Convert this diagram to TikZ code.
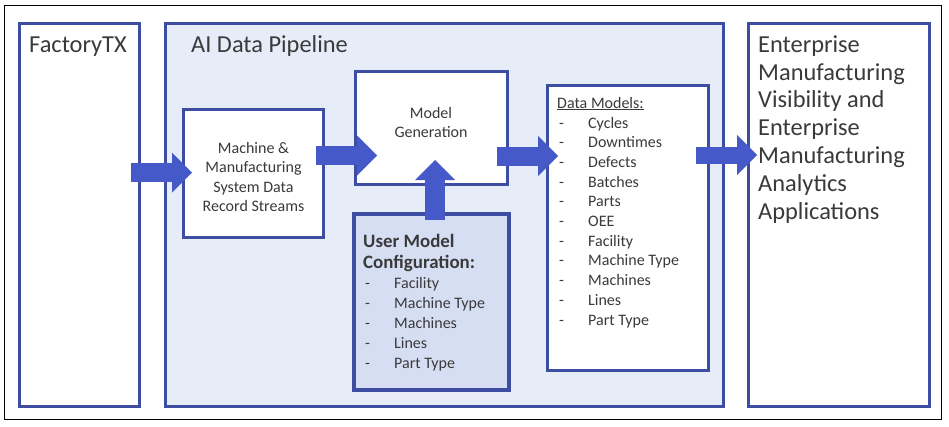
\documentclass[tikz,border=0pt]{standalone}
\usepackage{fontspec}
\setmainfont{Carlito}
\usetikzlibrary{arrows.meta}
\definecolor{bordercol}{HTML}{3D4EA2}
\definecolor{arrowcol}{HTML}{4659C8}
\definecolor{pipefill}{HTML}{E6ECF8}
\definecolor{userfill}{HTML}{D6DEF3}
\definecolor{txtcol}{HTML}{3A3A3A}
\tikzset{
  box/.style={draw=bordercol, line width=3pt, fill=white, anchor=north west, inner sep=0pt, outer sep=0pt},
  fatarrow/.style={draw=arrowcol, line width=19pt, -{Triangle[width=40pt,length=20pt,line width=0pt]}},
  lbl/.style={text=txtcol, inner sep=0pt, anchor=base west, font=\fontsize{16}{19.6}\selectfont},
  clbl/.style={lbl, anchor=base},
  bigl/.style={lbl, font=\fontsize{24.4}{28}\selectfont},
  boldl/.style={lbl, font=\fontsize{18.9}{22}\selectfont\bfseries},
}
\begin{document}
\begin{tikzpicture}[x=1pt,y=-1pt]
\useasboundingbox (0,0) rectangle (949,426);
\node[draw=black, line width=1pt, inner sep=0pt, outer sep=0pt, anchor=north west, minimum width=937pt, minimum height=414pt] (frame) at (4,5) {};
% main boxes
\node[box, minimum width=120pt, minimum height=383pt] (factory) at (19.5,23.5) {};
\node[box, fill=pipefill, minimum width=558pt, minimum height=383pt] (pipeline) at (165.5,23.5) {};
\node[box, minimum width=181pt, minimum height=383pt] (enterprise) at (748.5,23.5) {};
% inner boxes
\node[box, minimum width=140pt, minimum height=128pt] (machine) at (183.5,109.5) {};
\node[box, minimum width=152pt, minimum height=113pt] (modelgen) at (355.5,71.5) {};
\node[box, fill=userfill, line width=4.5pt, minimum width=155pt, minimum height=176pt] (userbox) at (354,214) {};
\node[box, minimum width=161pt, minimum height=285pt] (datamodels) at (547.5,85.5) {};
% titles
\node[bigl] (ftitle) at (29,52) {FactoryTX};
\node[bigl] (ptitle) at (191,52) {AI Data Pipeline};
\foreach \t [count=\i from 0] in {Enterprise,Manufacturing,Visibility and,Enterprise,Manufacturing,Analytics,Applications}
  \node[bigl] (ent\i) at (758,{52.3+27.8*\i}) {\t};
% machine text
\foreach \t [count=\i from 0] in {Machine \&,Manufacturing,System Data,Record Streams}
  \node[clbl] (mach\i) at (253.5,{153+19.6*\i}) {\t};
% model generation text
\node[clbl] (mg0) at (431,118) {Model};
\node[clbl] (mg1) at (431,137.6) {Generation};
% user model configuration
\node[boldl] (ub0) at (363,247) {User Model};
\node[boldl] (ub1) at (363,268.5) {Configuration:};
\foreach \t [count=\i from 0] in {Facility,Machine Type,Machines,Lines,Part Type}
  \node[lbl] (ui\i) at (365,{288+20*\i}) {\makebox[29pt][l]{-}\t};
% data models
\node[lbl] (dmh) at (557,108) {\underline{Data Models:}};
\foreach \t [count=\i from 0] in {Cycles,Downtimes,Defects,Batches,Parts,OEE,Facility,Machine Type,Machines,Lines,Part Type}
  \node[lbl] (dm\i) at (559,{128+19.7*\i}) {\makebox[29pt][l]{-}\t};
% arrows
\coordinate (a1s) at (131,172.5); \coordinate (a1e) at (192,172.5);
\coordinate (a2s) at (316,155.5); \coordinate (a2e) at (377,155.5);
\coordinate (a3s) at (497,156);   \coordinate (a3e) at (558,156);
\coordinate (a4s) at (696,155);   \coordinate (a4e) at (757,155);
\coordinate (a5s) at (435,220);   \coordinate (a5e) at (435,160);
\draw[fatarrow] (a1s) -- (a1e);
\draw[fatarrow] (a2s) -- (a2e);
\draw[fatarrow] (a3s) -- (a3e);
\draw[fatarrow, line width=17pt] (a4s) -- (a4e);
\draw[fatarrow, line width=20pt] (a5s) -- (a5e);
\end{tikzpicture}
\end{document}
